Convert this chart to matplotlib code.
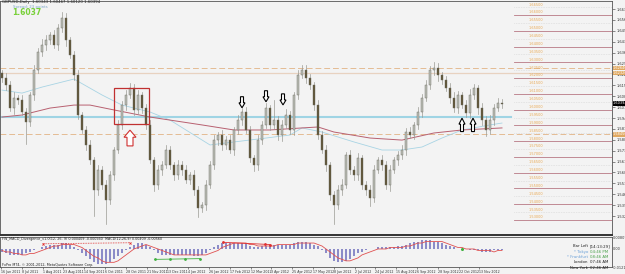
import numpy as np
import matplotlib.pyplot as plt
from matplotlib.patches import Rectangle, Polygon

# price data (3-day candles)
first_open = 1.6230
closes = [1.6200, 1.6156, 1.6010, 1.6074, 1.6061, 1.5985, 1.5922, 1.6093, 1.6251, 1.6365,
          1.6410, 1.6441, 1.6473, 1.6410, 1.6518, 1.6581, 1.6441, 1.6346, 1.6219, 1.5966,
          1.5871, 1.5776, 1.5681, 1.5490, 1.5617, 1.5522, 1.5427, 1.5586, 1.5744, 1.5903,
          1.6029, 1.6093, 1.6137, 1.5998, 1.6093, 1.6010, 1.5903, 1.5681, 1.5522, 1.5617,
          1.5649, 1.5744, 1.5649, 1.5586, 1.5649, 1.5617, 1.5554, 1.5586, 1.5490, 1.5376,
          1.5395, 1.5522, 1.5649, 1.5807, 1.5839, 1.5776, 1.5807, 1.5744, 1.5871, 1.5934,
          1.5985, 1.5871, 1.5693, 1.5649, 1.5807, 1.5903, 1.6010, 1.5903, 1.5934, 1.5839,
          1.5903, 1.5966, 1.5871, 1.6093, 1.6219, 1.6251, 1.6200, 1.6156, 1.6029, 1.5839,
          1.5744, 1.5649, 1.5459, 1.5395, 1.5490, 1.5522, 1.5712, 1.5617, 1.5586, 1.5693,
          1.5522, 1.5490, 1.5440, 1.5617, 1.5681, 1.5649, 1.5522, 1.5617, 1.5681, 1.5712,
          1.5744, 1.5858, 1.5839, 1.5903, 1.5985, 1.6074, 1.6156, 1.6251, 1.6264, 1.6219,
          1.6188, 1.6137, 1.6074, 1.6010, 1.6093, 1.6029, 1.5979, 1.6093, 1.6137, 1.6010,
          1.5934, 1.5871, 1.5934, 1.6010, 1.6042, 1.6037]
# wick lengths in pips
wick_up = [20, 30, 25, 35, 20, 30, 25, 20, 30, 25, 35, 30, 20,
           30, 25, 40, 30, 20, 25, 30, 20, 25, 30, 20, 35, 25,
           30, 25, 20, 30, 25, 30, 35, 25, 30, 20, 25, 30, 20,
           35, 25, 30, 25, 20, 30, 25, 35, 20, 30, 25, 20, 30,
           25, 30, 20, 35, 25, 30, 20, 30, 25, 30, 25, 20, 30,
           25, 35, 20, 130, 25, 30, 35, 25, 20, 30, 35, 30, 25,
           20, 30, 25, 30, 20, 25, 30, 35, 20, 30, 25, 30, 20,
           25, 30, 35, 20, 30, 25, 30, 20, 25, 30, 25, 35, 20,
           30, 25, 30, 25, 40, 30, 20, 25, 30, 35, 25, 20, 30,
           35, 25, 20, 30, 25, 30, 25, 30, 25]
wick_dn = [25, 30, 20, 35, 25, 20, 140, 25, 30, 20, 25, 30, 25,
           20, 30, 25, 35, 20, 30, 25, 20, 30, 25, 165, 30, 25,
           150, 25, 30, 20, 25, 30, 20, 35, 25, 30, 25, 20, 35,
           25, 30, 20, 25, 35, 25, 30, 20, 25, 30, 60, 25, 30,
           20, 25, 30, 35, 25, 20, 30, 25, 30, 20, 25, 35, 30,
           25, 20, 30, 25, 30, 35, 20, 25, 30, 25, 20, 30, 25,
           30, 25, 20, 35, 30, 120, 25, 30, 20, 25, 30, 35, 25,
           30, 50, 25, 20, 30, 25, 35, 20, 30, 25, 30, 20, 25,
           25, 30, 20, 25, 30, 35, 25, 20, 30, 25, 30, 20, 25,
           30, 25, 35, 30, 40, 25, 30, 20, 25]

# moving averages (bar index, price)
fast_ma_bar = [0, 5, 10, 18, 25, 30, 37, 42, 52, 58, 66, 72, 75, 80, 88, 95, 100, 105, 110, 115, 122, 125]
fast_ma = [1.6124, 1.6105, 1.6143, 1.6194, 1.6093, 1.6029, 1.5985, 1.5934, 1.5776, 1.5795, 1.5820,
           1.5839, 1.5884, 1.5858, 1.5795, 1.5744, 1.5744, 1.5763, 1.5820, 1.5871, 1.5903, 1.5915]
slow_ma_bar = [0, 5, 12, 18, 22, 28, 37, 50, 58, 67, 75, 79, 83, 92, 100, 108, 115, 125]
slow_ma = [1.5953, 1.5966, 1.6010, 1.6029, 1.6029, 1.5998, 1.5953, 1.5903, 1.5871, 1.5871,
           1.5884, 1.5890, 1.5858, 1.5820, 1.5807, 1.5852, 1.5871, 1.5884]

# MACD (x0.001)
macd = [-2, -3, -4, -4, -4, -4, -3, -2, -1, 0, 1, 2, 3, 3, 3, 4, 4, 3, 1,
        -1, -3, -5, -7, -9, -10, -10, -10, -9, -7, -5, -3, -1, 1, 3, 4, 4, 3,
        1, -1, -3, -4, -4, -4, -4, -4, -4, -4, -4, -5, -5, -4, -3,
        -1, 1, 3, 4, 4, 4, 4, 4, 4, 4, 2, 1,
        1, 2, 2, 3, 3, 3, 3, 3, 3, 4, 5, 5, 5, 4, 3, 2,
        -1, -3, -6, -8, -9, -9, -8, -7, -5, -3,
        -2, -1, 0, 0, 1, 1, 1, 1, 1, 2, 2,
        3, 4, 5, 5, 6, 6, 6, 5, 5, 4, 3, 2,
        1, 0, 0, 0, -1, -1, -1, -2, -2, -2, -1, -1, -1]
signal = [-1, -2, -2, -3, -3, -4, -4, -3, -3, -2, -1, 0, 1, 2, 2, 3, 3, 3, 3,
          2, 1, -1, -3, -5, -6, -8, -9, -9, -9, -8, -6, -4, -2, 0, 1, 2, 3,
          2, 1, 0, -1, -2, -3, -4, -4, -4, -4, -4, -4, -4, -4, -4,
          -3, -2, -1, 1, 2, 3, 4, 4, 4, 4, 3, 3,
          2, 2, 2, 2, 2, 3, 3, 3, 3, 3, 4, 4, 4, 4, 4, 3,
          2, 0, -2, -4, -6, -7, -8, -8, -7, -6,
          -4, -3, -2, -1, 0, 0, 0, 1, 1, 1, 1,
          2, 2, 3, 4, 4, 5, 5, 5, 5, 5, 4, 3,
          2, 1, 1, 0, 0, 0, -1, -1, -1, -1, -2, -1, -1]

date_labels = ["16 Jun 2011", "8 Jul 2011", "1 Aug 2011", "23 Aug 2011", "14 Sep 2011", "6 Oct 2011",
               "28 Oct 2011", "21 Nov 2011", "13 Dec 2011", "4 Jan 2012", "26 Jan 2012", "17 Feb 2012",
               "12 Mar 2012", "3 Apr 2012", "25 Apr 2012", "17 May 2012", "8 Jun 2012", "2 Jul 2012",
               "24 Jul 2012", "15 Aug 2012", "6 Sep 2012", "28 Sep 2012", "22 Oct 2012", "13 Nov 2012"]
price_ticks = [1.66379, 1.65688, 1.64997, 1.64306, 1.63615, 1.62924, 1.62233, 1.61542, 1.60851, 1.60160,
               1.59469, 1.58778, 1.58087, 1.57396, 1.56705, 1.56014, 1.55323, 1.54632, 1.53941, 1.53250]
round_levels = [1.53, 1.54, 1.55, 1.56, 1.57, 1.58, 1.59, 1.60, 1.61, 1.62, 1.63, 1.64, 1.65, 1.66]
half_levels = [1.535, 1.545, 1.555, 1.565, 1.575, 1.585, 1.595, 1.605, 1.615, 1.625, 1.635, 1.645, 1.655, 1.665]
support_line = 1.5953
dashed_levels = [1.6264, 1.5845]
tan_level = 1.6232
last_price = 1.60394

BG = '#f3f3f3'
fig = plt.figure(figsize=(6.25, 2.74), dpi=100, facecolor=BG)
ax = fig.add_axes([0, 39 / 274, 612 / 625, 234 / 274], facecolor=BG)
sub = fig.add_axes([0, 7 / 274, 612 / 625, 30 / 274], facecolor=BG)

n = len(closes)
xs = 4 * np.arange(n) + 2
opens = [first_open] + closes[:-1]

# horizontal levels
for lv in round_levels:
    ax.plot([514, 612], [lv, lv], color='#b87884', lw=0.6, zorder=1)
    ax.text(543, lv + 0.0004, '%.5f' % lv, color='#eaa850', fontsize=2.5, ha='right', va='bottom')
for lv in half_levels:
    ax.plot([514, 612], [lv, lv], color='#c4c4c4', lw=0.4, ls=(0, (1, 2)), zorder=1)
    ax.text(543, lv + 0.0004, '%.5f' % lv, color='#eaa850', fontsize=2.5, ha='right', va='bottom')
for lv in dashed_levels:
    ax.plot([0, 612], [lv, lv], color='#e4bc94', lw=0.7, ls=(0, (6, 3)), zorder=1)
ax.plot([0, 612], [tan_level, tan_level], color='#e8d2c0', lw=0.9, zorder=1)
ax.plot([0, 511], [support_line, support_line], color='#9fd4e4', lw=1.5, zorder=2)

# moving averages
ax.plot(4 * np.array(fast_ma_bar) + 2, fast_ma, color='#a8d4e4', lw=0.6, zorder=2)
ax.plot(4 * np.array(slow_ma_bar) + 2, slow_ma, color='#b86070', lw=0.7, zorder=2)

# candles
for x, o, c, wu, wd in zip(xs, opens, closes, wick_up, wick_dn):
    hi = max(o, c) + wu * 1e-4
    lo = min(o, c) - wd * 1e-4
    ax.plot([x, x], [lo, hi], color='#9a9a94', lw=0.5, zorder=3)
    col = '#bcbeb6' if c >= o else '#5f5436'
    body = max(abs(c - o), 2e-4)
    ax.bar(x, body, bottom=min(o, c), width=2.2, color=col, edgecolor='#6a6a60', lw=0.3, zorder=4)

# red box and arrows
ax.add_patch(Rectangle((114, 1.5909), 35, 0.0228, fill=False, ec='#c03030', lw=0.9, zorder=5))


def block_arrow(xc, tip, up, color, w=3.0, h=0.0070):
    d = 1 if up else -1
    hh = h * 0.45
    pts = [(xc, tip), (xc + w, tip - d * hh), (xc + w * 0.5, tip - d * hh), (xc + w * 0.5, tip - d * h),
           (xc - w * 0.5, tip - d * h), (xc - w * 0.5, tip - d * hh), (xc - w, tip - d * hh)]
    ax.add_patch(Polygon(pts, closed=True, fill=True, fc='white', ec=color, lw=0.8, zorder=6))


block_arrow(130, 1.5870, True, '#d03030', w=6, h=0.0100)
block_arrow(242, 1.6012, False, 'black')
block_arrow(266, 1.6050, False, 'black')
block_arrow(283, 1.6030, False, 'black')
block_arrow(462, 1.5946, True, 'black', h=0.0085)
block_arrow(473, 1.5946, True, 'black', h=0.0085)

ax.set_xlim(0, 612)
ax.set_ylim(1.5205, 1.6689)
ax.set_xticks([])
ax.yaxis.tick_right()
ax.set_yticks(price_ticks)
ax.set_yticklabels(['%.5f' % p for p in price_ticks])
ax.tick_params(axis='y', labelsize=2.6, length=2, width=0.4, pad=1, colors='#333333')
for s in ax.spines.values():
    s.set_color('#555555')
    s.set_linewidth(0.6)
ax.spines['bottom'].set_linewidth(1.4)
ax.spines['bottom'].set_color('#333333')

# price boxes on axis
for lv in dashed_levels + [tan_level]:
    ax.text(613, lv, '%.5f' % lv, fontsize=2.5, color='white', va='center', ha='left',
            bbox=dict(fc='#e0a860', ec='none', pad=0.3), clip_on=False)
ax.text(613, last_price, '%.5f' % last_price, fontsize=2.5, color='white', va='center', ha='left',
        bbox=dict(fc='black', ec='none', pad=0.3), clip_on=False)

ax.text(2, 1.6680, 'GBPUSD,Daily  1.60343 1.60467 1.60120 1.60394', fontsize=2.8, color='#222222', va='center')
ax.text(13, 1.6650, 'Spread: 23 points', fontsize=2.8, color='#7aa6c8', va='center')
ax.text(12, 1.6615, '1.6037', fontsize=5.5, color='#78d038', fontweight='bold', va='center')

# MACD sub window
sub.bar(xs, macd, width=2.6, color='#8c8cc8', edgecolor='none', zorder=2)
sub.plot(xs, signal, color='#e05050', lw=0.6, zorder=3)
sub.plot([43, 130], [3.5, 4.2], color='#e03030', lw=0.6, ls=(0, (1, 1)), zorder=4)
sub.plot([43, 130], [3.5, 4.2], 'x', color='#e03030', ms=1.5, mew=0.6, zorder=4)
sub.plot([155, 200], [-7.0, -6.5], color='#40b040', lw=0.6, zorder=4)
sub.plot([155, 170, 185, 200], [-7.0, -6.8, -6.7, -6.5], 'o', color='#40b040', ms=1.0, zorder=4)
sub.plot([223, 270], [4.5, 3.0], color='#e03030', lw=0.6, zorder=4)
sub.plot([223, 265, 270], [4.5, 3.4, 3.0], 'o', color='#e03030', ms=1.0, zorder=4)
sub.plot([462], [0.2], 'o', color='#40b040', ms=1.2, zorder=4)
sub.set_xlim(0, 612)
sub.set_ylim(-12.14, 8.07)
sub.set_yticks([])
tick_x = [1 + 20.8 * k for k in range(len(date_labels))]
sub.set_xticks(tick_x)
sub.set_xticklabels(date_labels, ha='left')
sub.tick_params(axis='x', labelsize=2.3, length=1.5, width=0.4, pad=0.8, colors='#333333')
for s in sub.spines.values():
    s.set_color('#555555')
    s.set_linewidth(0.6)

sub.text(2, 7.0, 'FW_MACD_Divergence_v1.0(12, 26, 9) 0.000409 -0.000560  MACD(12,26,9) 0.00409 -0.00560',
         fontsize=2.4, color='#222222', va='center')
sub.text(2, -11.0, 'FxPro MT4, \u00a9 2001-2012, MetaQuotes Software Corp.', fontsize=2.4, color='#222222', va='center')
sub.text(613, 7.6, '0.00807', fontsize=2.5, color='#333333', va='center', clip_on=False)
sub.text(613, 0, '0.00', fontsize=2.5, color='#333333', va='center', clip_on=False)
sub.text(613, -12.5, '-0.01214', fontsize=2.5, color='#333333', va='center', clip_on=False)

info = [('Bar Left', '[14:13:29]', '#222222', '#222222'),
        ('* Tokyo', '04:46 PM', '#6aa0d8', '#48a048'),
        ('* Frankfurt', '08:46 AM', '#6aa0d8', '#48a048'),
        ('London', '07:46 AM', '#222222', '#222222'),
        ('New York', '02:46 AM', '#222222', '#222222')]
for k, (name, t, c1, c2) in enumerate(info):
    y = 2.0 - k * 3.7
    sub.text(588, y, name, fontsize=2.8, color=c1, ha='right', va='center', clip_on=False)
    sub.text(590, y, t, fontsize=2.8, color=c2, ha='left', va='center', clip_on=False)

fig.savefig('out.png', dpi=100, facecolor=BG)
